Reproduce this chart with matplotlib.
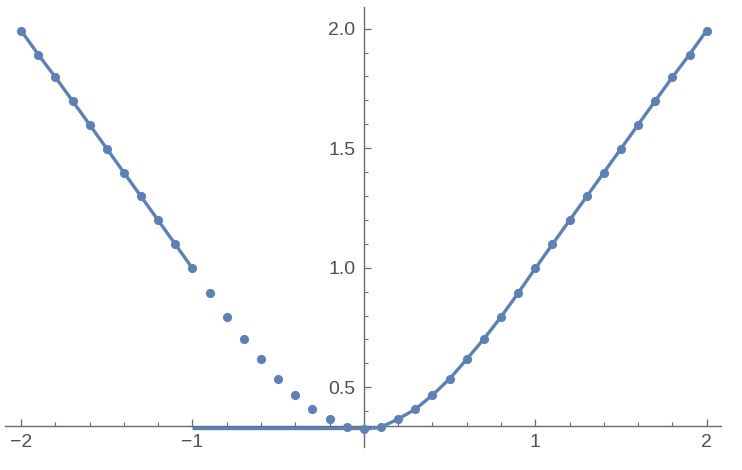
import matplotlib
matplotlib.use("Agg")
import matplotlib.pyplot as plt
import numpy as np

# Sample points (every 0.1 from -2 to 2)
pts_x = [-2.0, -1.9, -1.8, -1.7, -1.6, -1.5, -1.4, -1.3, -1.2, -1.1,
         -1.0, -0.9, -0.8, -0.7, -0.6, -0.5, -0.4, -0.3, -0.2, -0.1,
         0.0, 0.1, 0.2, 0.3, 0.4, 0.5, 0.6, 0.7, 0.8, 0.9,
         1.0, 1.1, 1.2, 1.3, 1.4, 1.5, 1.6, 1.7, 1.8, 1.9, 2.0]
pts_y = [1.992, 1.892, 1.797, 1.698, 1.598, 1.498, 1.398, 1.298, 1.198, 1.098,
         0.997, 0.895, 0.794, 0.702, 0.617, 0.534, 0.468, 0.409, 0.367, 0.334,
         0.324, 0.333, 0.367, 0.408, 0.467, 0.535, 0.617, 0.702, 0.794, 0.894,
         0.997, 1.098, 1.198, 1.298, 1.398, 1.498, 1.598, 1.698, 1.797, 1.892, 1.992]

# Line pieces
left_x = [-2.0, -1.9, -1.8, -1.7, -1.6, -1.5, -1.4, -1.3, -1.2, -1.1, -1.0]
left_y = [1.992, 1.892, 1.797, 1.698, 1.598, 1.498, 1.398, 1.298, 1.198, 1.098, 0.997]
flat_x = [-1.0, 0.05]
flat_y = [0.328, 0.328]
right_x = [0.05, 0.1, 0.2, 0.3, 0.4, 0.5, 0.6, 0.7, 0.8, 0.9,
           1.0, 1.1, 1.2, 1.3, 1.4, 1.5, 1.6, 1.7, 1.8, 1.9, 2.0]
right_y = [0.328, 0.333, 0.367, 0.408, 0.467, 0.535, 0.617, 0.702, 0.794, 0.894,
           0.997, 1.098, 1.198, 1.298, 1.398, 1.498, 1.598, 1.698, 1.797, 1.892, 1.992]

x_major = [-2, -1, 1, 2]
x_labels = ["\u22122", "\u22121", "1", "2"]
y_major = [0.5, 1.0, 1.5, 2.0]
y_labels = ["0.5", "1.0", "1.5", "2.0"]

color = "#5E81B5"
axis_color = "#6b6b6b"
text_color = "#505050"

plt.rcParams['font.family'] = ['Liberation Sans', 'DejaVu Sans']

fig = plt.figure(figsize=(7.42, 4.70), dpi=100)
W, H = 742, 470
left_px, right_px, top_px, bot_px = 5, 720.7, 7.3, 447
ax = fig.add_axes([left_px / W, (H - bot_px) / H,
                   (right_px - left_px) / W, (bot_px - top_px) / H])

ax.set_xlim(-2.094, 2.082)
ax.set_ylim(0.250, 2.0895)

lw = 2.4
ax.plot(left_x, left_y, color=color, lw=lw, solid_capstyle='butt', zorder=3)
ax.plot(flat_x, flat_y, color=color, lw=lw, solid_capstyle='butt', zorder=3)
ax.plot(right_x, right_y, color=color, lw=lw, solid_capstyle='butt', zorder=3)
ax.plot(pts_x, pts_y, 'o', color=color, ms=6.6, mec='none', zorder=4)

for s in ['top', 'right']:
    ax.spines[s].set_visible(False)
ax.spines['left'].set_position(('data', 0))
ax.spines['bottom'].set_position(('data', 0.3377))
for s in ['left', 'bottom']:
    ax.spines[s].set_color(axis_color)
    ax.spines[s].set_linewidth(1.0)

ax.set_xticks(x_major)
ax.set_xticklabels(x_labels)
ax.set_xticks([v / 10 for v in range(-18, 20, 2) if v % 10 != 0], minor=True)
ax.set_yticks(y_major)
ax.set_yticklabels(y_labels)
ax.set_yticks([v / 10 for v in range(4, 21) if v % 5 != 0], minor=True)

ax.tick_params(axis='both', which='major', direction='in', length=5.2, width=0.9,
               color=axis_color, labelcolor=text_color, labelsize=14, pad=6)
ax.tick_params(axis='both', which='minor', direction='in', length=3.0, width=0.8,
               color=axis_color)
ax.tick_params(axis='y', which='major', pad=6)

fig.savefig("out.png", dpi=100)
